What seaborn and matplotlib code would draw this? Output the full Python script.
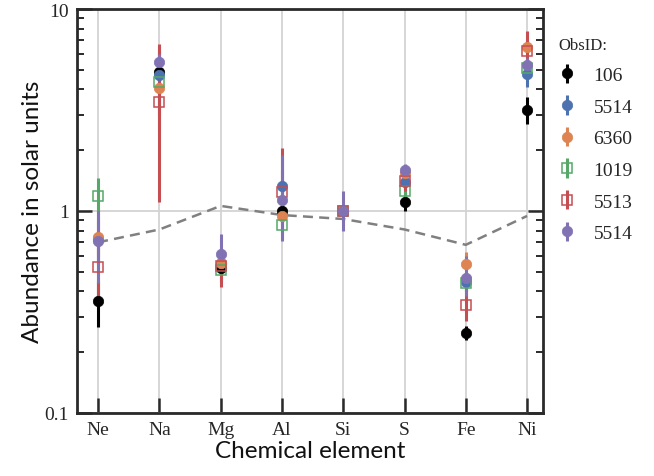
import numpy as np
import pandas as pd
import matplotlib
matplotlib.use("Agg")
import matplotlib.pyplot as plt
import seaborn as sns
from matplotlib.ticker import LogLocator, FixedLocator, FixedFormatter, NullFormatter

# Elements and the reference abundance curve
elements = ["Ne", "Na", "Mg", "Al", "Si", "S", "Fe", "Ni"]
reference = [0.70, 0.81, 1.06, 0.955, 0.913, 0.81, 0.68, 0.945]

obs_labels = ["106", "5514", "6360", "1019", "5513", "5514"]

# Abundances with lower / upper bounds of the error bars
ab_106 = [0.36, 4.90, 0.52, 1.00, 1.00, 1.11, 0.249, 3.16]
lo_106 = [0.267, 4.60, 0.49, 0.95, 1.00, 1.00, 0.230, 2.70]
hi_106 = [0.45, 5.20, 0.56, 1.06, 1.00, 1.24, 0.270, 3.66]

ab_5514a = [0.73, 4.71, 0.55, 1.33, 1.00, 1.39, 0.447, 4.77]
lo_5514a = [0.55, 4.20, 0.50, 1.10, 1.00, 1.30, 0.400, 4.10]
hi_5514a = [0.95, 5.30, 0.60, 1.60, 1.00, 1.50, 0.500, 5.50]

ab_6360 = [0.74, 4.05, 0.55, 0.94, 1.00, 1.55, 0.547, 6.46]
lo_6360 = [0.60, 2.50, 0.50, 0.85, 1.00, 1.45, 0.500, 5.80]
hi_6360 = [0.90, 6.50, 0.60, 1.05, 1.00, 1.65, 0.630, 7.00]

ab_1019 = [1.18, 4.37, 0.51, 0.85, 1.00, 1.25, 0.44, 5.10]
lo_1019 = [0.95, 3.00, 0.45, 0.78, 1.00, 1.15, 0.40, 4.60]
hi_1019 = [1.46, 6.30, 0.57, 0.95, 1.00, 1.35, 0.48, 5.60]

ab_5513 = [0.53, 3.45, 0.536, 1.24, 1.00, 1.41, 0.343, 6.17]
lo_5513 = [0.36, 1.11, 0.42, 0.90, 1.00, 1.25, 0.286, 5.30]
hi_5513 = [0.72, 6.70, 0.62, 2.05, 1.00, 1.55, 0.420, 7.76]

ab_5514b = [0.71, 5.45, 0.61, 1.13, 1.00, 1.60, 0.464, 5.30]
lo_5514b = [0.44, 4.90, 0.50, 0.71, 0.80, 1.45, 0.380, 4.90]
hi_5514b = [1.00, 6.00, 0.77, 1.90, 1.25, 1.70, 0.600, 5.70]

series = [
    (ab_106, lo_106, hi_106),
    (ab_5514a, lo_5514a, hi_5514a),
    (ab_6360, lo_6360, hi_6360),
    (ab_1019, lo_1019, hi_1019),
    (ab_5513, lo_5513, hi_5513),
    (ab_5514b, lo_5514b, hi_5514b),
]

sns.set_theme(style="ticks")
deep = sns.color_palette("deep")
colors = ["black", deep[0], deep[1], deep[2], deep[3], deep[4]]
markers = ["o", "o", "o", "s", "s", "o"]
filled = [True, True, True, False, False, True]

serif = ["Liberation Serif", "DejaVu Serif"]
sans = ["Lato", "DejaVu Sans"]

fig = plt.figure(figsize=(6.54, 4.77), dpi=100)
ax = fig.add_axes([77 / 654, 1 - 414 / 477, (543 - 77) / 654, (414 - 10) / 477])

x = np.arange(len(elements))

# Reference abundance curve
ref_df = pd.DataFrame({"x": x, "ref": reference})
sns.lineplot(data=ref_df, x="x", y="ref", ax=ax, color="gray", lw=1.8,
             linestyle=(0, (4, 2.5)), zorder=2)

handles = []
for (ab, lo, hi), c, m, f, lab in zip(series, colors, markers, filled, obs_labels):
    ab = np.array(ab)
    err = np.vstack([ab - np.array(lo), np.array(hi) - ab])
    h = ax.errorbar(x, ab, yerr=err, fmt=m, color=c, ecolor=c, elinewidth=2.2,
                    capsize=0, markersize=7.5 if f else 6.8,
                    markerfacecolor=c if f else "none",
                    markeredgecolor=c, markeredgewidth=1.1 if not f else 0.5,
                    label=lab, zorder=3)
    handles.append(h)

ax.set_yscale("log")
ax.set_ylim(0.1, 10)
ax.set_xlim(-0.345, 7.26)

ax.set_xticks(x)
ax.set_xticklabels(elements, fontfamily=serif, fontsize=14)
ax.yaxis.set_major_locator(FixedLocator([0.1, 1, 10]))
ax.yaxis.set_major_formatter(FixedFormatter(["0.1", "1", "10"]))
ax.yaxis.set_minor_locator(LogLocator(base=10, subs=np.arange(2, 10)))
ax.yaxis.set_minor_formatter(NullFormatter())
for t in ax.get_yticklabels():
    t.set_fontfamily(serif)
    t.set_fontsize(14)

ax.grid(True, which="major", color="#d3d3d3", lw=1.3, zorder=0)
ax.set_axisbelow(True)

spine_c = "#2a2a2a"
for s in ax.spines.values():
    s.set_color(spine_c)
    s.set_linewidth(2)
ax.tick_params(axis="both", which="major", direction="in", length=11, width=1.8,
               color=spine_c, pad=6)
ax.tick_params(axis="y", which="both", right=True, left=True)
ax.tick_params(axis="y", which="minor", direction="in", length=5, width=1.4, color=spine_c)
ax.tick_params(axis="x", top=False)

ax.set_xlabel("Chemical element", fontfamily=sans, color="#111111",
              fontsize=17.5, labelpad=1)
ax.set_ylabel("Abundance in solar units", fontfamily=sans, color="#111111",
              fontsize=17.5, labelpad=1)

leg = fig.legend(handles=handles, labels=obs_labels, title="ObsID:",
                 loc="upper left", bbox_to_anchor=(541 / 654, 1 - 20 / 477),
                 frameon=False, handlelength=0.9, handletextpad=0.9,
                 labelspacing=0.72, prop={"family": serif, "size": 14},
                 title_fontproperties={"family": serif, "size": 12})
leg._legend_box.align = "left"

fig.savefig("out.png", dpi=100)
